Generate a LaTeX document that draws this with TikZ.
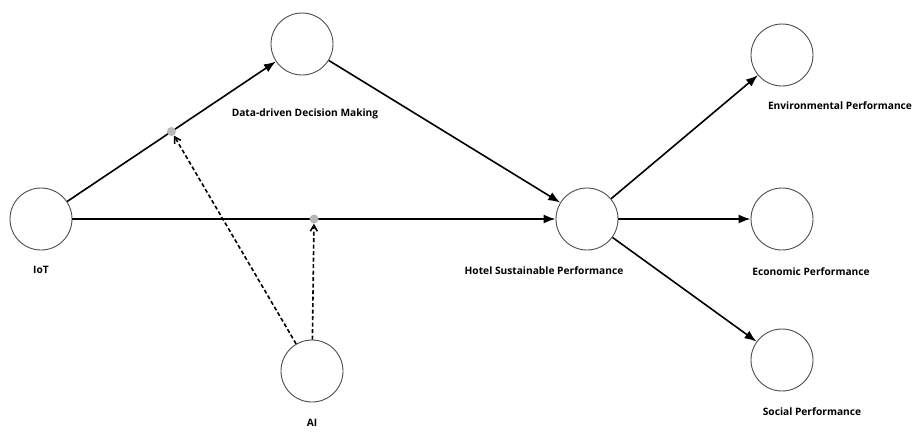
\documentclass[tikz,border=0pt]{standalone}
\usepackage{fontspec}
\setmainfont{Open Sans}
\usetikzlibrary{arrows.meta}

\begin{document}
\begin{tikzpicture}[x=1pt, y=-1pt,
    lv/.style={circle, draw=black!70, line width=0.9pt, minimum size=62pt, inner sep=0pt},
    lbl/.style={font=\bfseries\fontsize{10.2}{12}\selectfont},
    rel/.style={line width=1.6pt, -{Latex[length=12pt,width=9pt]}},
    moder/.style={line width=1.6pt, dash pattern=on 4pt off 2.5pt, -{Straight Barb[length=6pt,width=7pt]}},
    joint/.style={circle, fill=black!28, inner sep=0pt, minimum size=9pt}]
      \useasboundingbox (0,0) rectangle (913,432);
      % constructs
      \node[lv] (iot) at (41,219) {};
      \node[lv] (ddm) at (302,44) {};
      \node[lv] (hsp) at (587,219) {};
      \node[lv] (ai)  at (312,371) {};
      \node[lv] (env) at (782,55) {};
      \node[lv] (eco) at (782,219) {};
      \node[lv] (soc) at (782,360) {};
      % labels
      \node[lbl] (iotl) at (41,270) {IoT};
      \node[lbl] (ddml) at (305,114) {Data-driven Decision Making};
      \node[lbl] (hspl) at (544,271) {Hotel Sustainable Performance};
      \node[lbl] (ail)  at (312,423) {AI};
      \node[lbl] (envl) at (840,106) {Environmental Performance};
      \node[lbl] (ecol) at (811,272) {Economic Performance};
      \node[lbl] (socl) at (812,412) {Social Performance};
      % paths
      \draw[rel] (iot) -- (ddm);
      \draw[rel] (iot) -- (hsp);
      \draw[rel] (ddm) -- (hsp);
      \draw[rel] (hsp) -- (env);
      \draw[rel] (hsp) -- (eco);
      \draw[rel] (hsp) -- (soc);
      % moderation by AI
      \path (iot) -- (ddm) node[joint, midway] (j1) {};
      \path (iot) -- (hsp) node[joint, midway] (j2) {};
      \draw[moder] (ai) -- (j1);
      \draw[moder] (ai) -- (j2);
    \end{tikzpicture}
\end{document}
